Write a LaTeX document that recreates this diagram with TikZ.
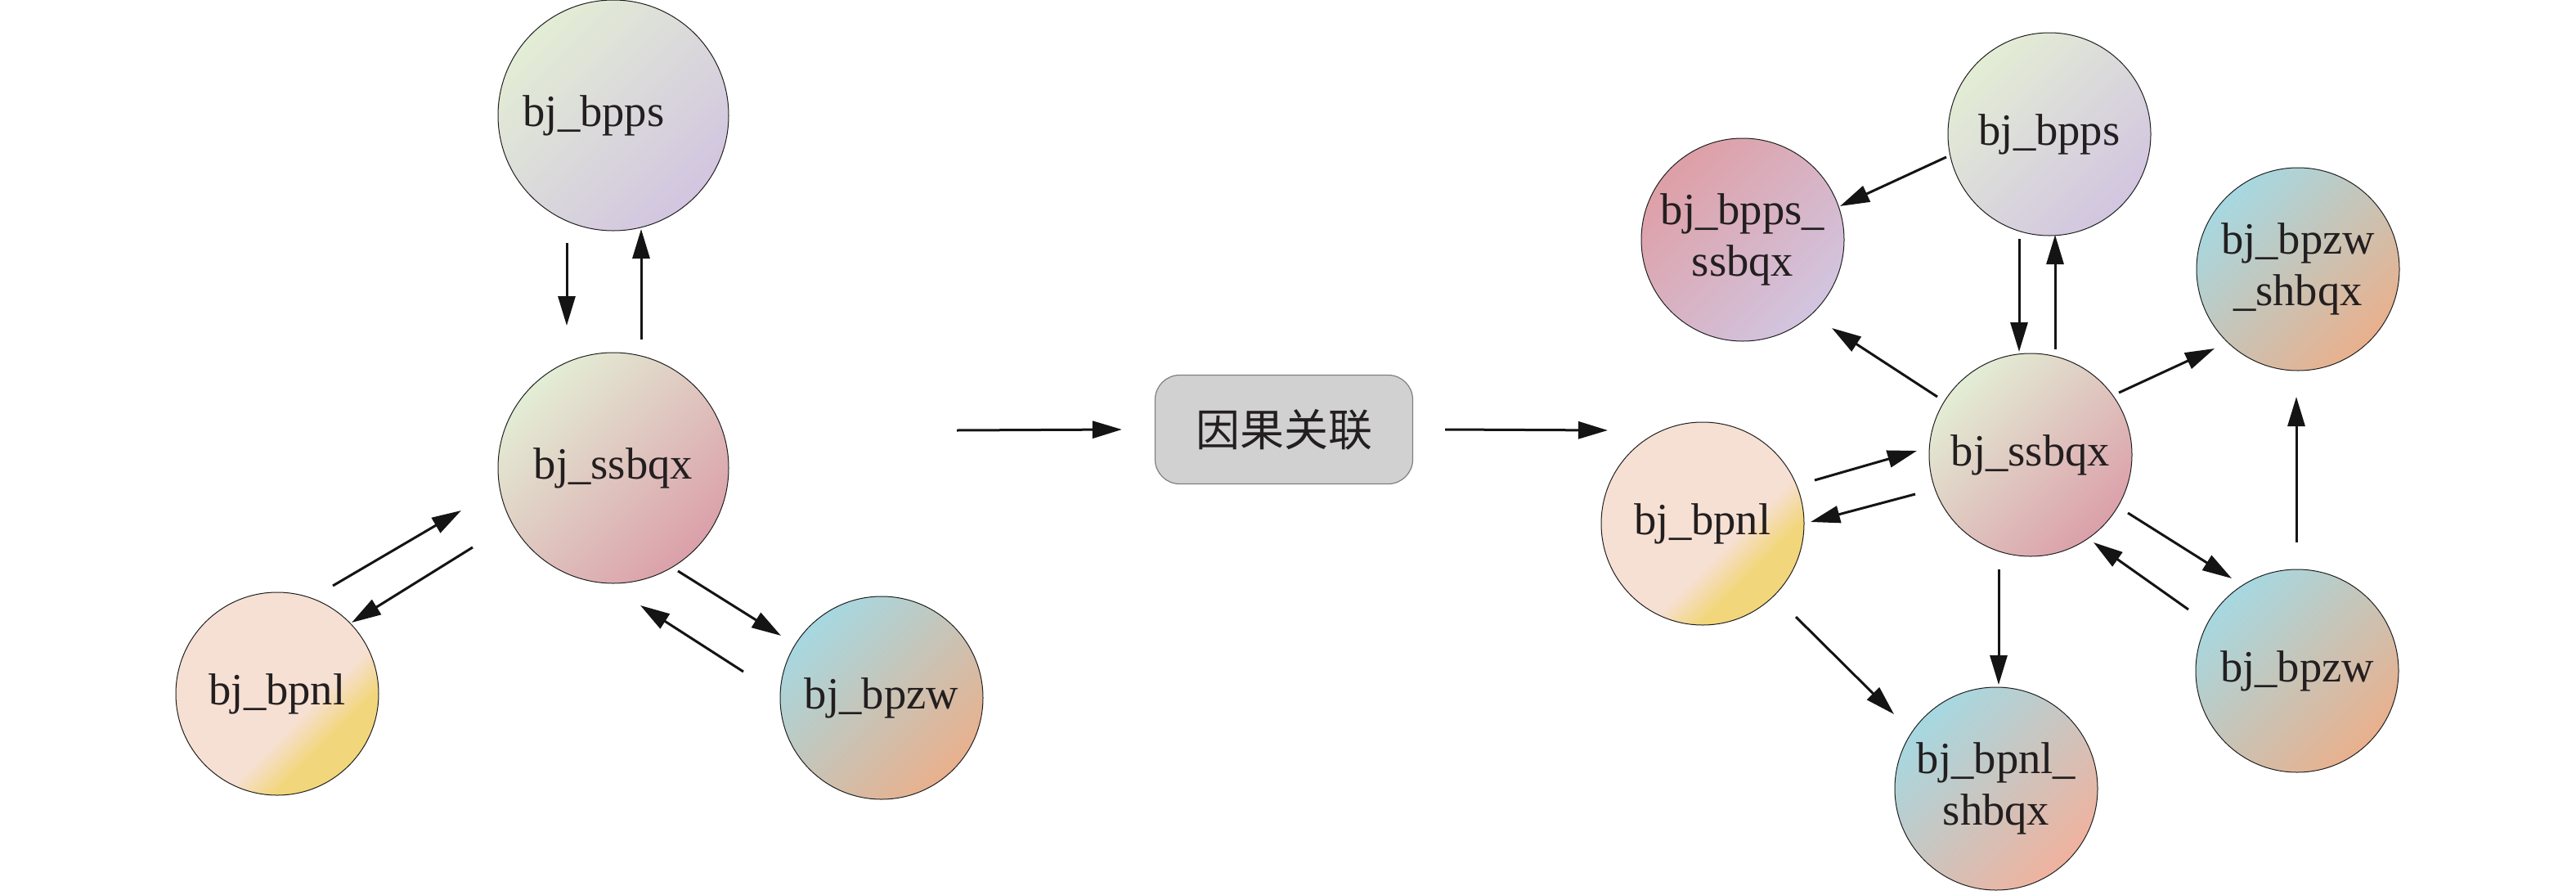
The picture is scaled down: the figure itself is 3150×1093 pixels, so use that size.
\documentclass[tikz,border=0pt]{standalone}
\usepackage{fontspec}
\setmainfont{Liberation Serif}
\newfontfamily\cjk{Noto Sans CJK SC}
\usetikzlibrary{arrows.meta,calc,shapes.geometric}
\definecolor{txt}{HTML}{231F20}
\definecolor{gA}{HTML}{E3EDD5}
\definecolor{lav}{HTML}{D2C5E0}
\definecolor{pnk}{HTML}{DBA0AA}
\definecolor{pch}{HTML}{F6E0D3}
\definecolor{ylw}{HTML}{F2D67C}
\definecolor{blu}{HTML}{A6D8E1}
\definecolor{org}{HTML}{E9B08D}
\definecolor{rose}{HTML}{DE9FA6}
\definecolor{mpk}{HTML}{E8D2DA}
\definecolor{sal}{HTML}{F0B29E}
\definecolor{boxf}{HTML}{D1D1D1}
\definecolor{boxd}{HTML}{7F7F7F}
\pgfdeclareverticalshading{nlshade}{100bp}{color(0bp)=(ylw); color(33bp)=(ylw); color(42bp)=(pch); color(100bp)=(pch)}
\tikzset{
  nd/.style={circle, draw=black!88, line width=0.5pt, inner sep=0pt, text=txt, font=\fontsize{27.3}{31.5}\selectfont},
  two/.style={align=center},
  bigc/.style={minimum size=141pt},
  smc/.style={minimum size=124pt},
  grad/.style 2 args={top color=#1, bottom color=#2, shading angle=45},
  grad3/.style n args={3}{top color=#1, middle color=#2, bottom color=#3, shading angle=45},
  nlgrad/.style={shading=nlshade, shading angle=45},
  arr/.style={-{Triangle[length=18pt,width=10.5pt]}, line width=1.5pt, draw=black!92},
  cbox/.style={rectangle, rounded corners=15pt, minimum width=157.5pt, minimum height=66.5pt, fill=boxf, draw=boxd, line width=0.6pt, text=txt, font=\cjk\fontsize{27}{30}\selectfont},
}
\begin{document}
\begin{tikzpicture}[x=0.5pt,y=-0.5pt]
\useasboundingbox (0,0) rectangle (3150,1093);
% left graph
\node[nd,bigc,grad={gA}{lav}] (Lbpps) at (750,141) {bj\_bpps\kern24pt};
\node[nd,bigc,grad={gA}{pnk}] (Lssbqx) at (750,572) {bj\_ssbqx};
\node[nd,smc,nlgrad] (Lbpnl) at (339,848) {bj\_bpnl};
\node[nd,smc,grad={blu}{org}] (Lbpzw) at (1078,853) {bj\_bpzw};
\draw[arr] ($(Lbpps)+(-57,156)$) -- ($(Lssbqx)+(-57,-174)$);
\draw[arr] ($(Lssbqx)+(34,-157)$) -- ($(Lbpps)+(34,139)$);
\draw[arr] ($(Lbpnl)+(68,-132)$) -- ($(Lssbqx)+(-186,52)$);
\draw[arr] ($(Lssbqx)+(-172,97)$) -- ($(Lbpnl)+(91,-87)$);
\draw[arr] ($(Lssbqx)+(79,126)$) -- ($(Lbpzw)+(-123,-76)$);
\draw[arr] ($(Lbpzw)+(-169,-32)$) -- ($(Lssbqx)+(33,168)$);
% middle
\node[cbox] (box) at (1570,525) {因果关联};
\coordinate (inL) at (1170,526);
\coordinate (outR) at (1966,526);
\draw[arr] (inL) -- ($(box.west)+(-40,0)$);
\draw[arr] ($(box.east)+(39,0)$) -- (outR);
% right graph
\node[nd,smc,grad={gA}{lav}] (Rbpps) at (2506,164) {bj\_bpps};
\node[nd,smc,two,grad={rose}{lav}] (Rpsq) at (2131,293) {bj\_bpps\_\\ssbqx};
\node[nd,smc,two,grad={blu}{org}] (Rzsh) at (2810,329) {bj\_bpzw\\\_shbqx};
\node[nd,smc,grad={gA}{pnk}] (Rssbqx) at (2483,556) {bj\_ssbqx};
\node[nd,smc,nlgrad] (Rbpnl) at (2082,640) {bj\_bpnl};
\node[nd,smc,grad={blu}{org}] (Rbpzw) at (2809,820) {bj\_bpzw};
\node[nd,smc,two,grad3={blu}{mpk}{sal}] (Rnsh) at (2441,964) {bj\_bpnl\_\\shbqx};
\draw[arr] ($(Rbpps)+(-126,28)$) -- ($(Rpsq)+(119,-41)$);
\draw[arr] ($(Rbpps)+(-37,128)$) -- ($(Rssbqx)+(-14,-126)$);
\draw[arr] ($(Rssbqx)+(30,-129)$) -- ($(Rbpps)+(7,123)$);
\draw[arr] ($(Rssbqx)+(-114,-71)$) -- ($(Rpsq)+(109,108)$);
\draw[arr] ($(Rssbqx)+(108,-76)$) -- ($(Rzsh)+(-102,97)$);
\draw[arr] ($(Rbpzw)+(-1,-157)$) -- ($(Rzsh)+(-2,156)$);
\draw[arr] ($(Rssbqx)+(119,71)$) -- ($(Rbpzw)+(-80,-113)$);
\draw[arr] ($(Rbpzw)+(-133,-75)$) -- ($(Rssbqx)+(77,107)$);
\draw[arr] ($(Rssbqx)+(-39,140)$) -- ($(Rnsh)+(3,-127)$);
\draw[arr] ($(Rbpnl)+(137,-53)$) -- ($(Rssbqx)+(-139,-5)$);
\draw[arr] ($(Rssbqx)+(-141,48)$) -- ($(Rbpnl)+(132,-2)$);
\draw[arr] ($(Rbpnl)+(114,114)$) -- ($(Rnsh)+(-125,-91)$);
\end{tikzpicture}
\end{document}
